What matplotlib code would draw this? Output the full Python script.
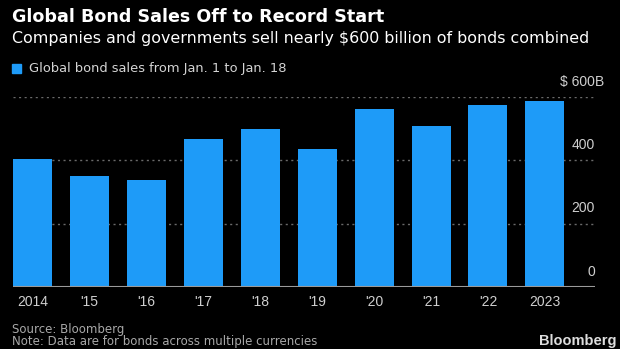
import numpy as np
import matplotlib.pyplot as plt

# values, $ billions
years = ["2014", "'15", "'16", "'17", "'18", "'19", "'20", "'21", "'22", "2023"]
sales = [403, 351, 337, 468, 499, 436, 562, 508, 575, 586]
yticks = [0, 200, 400, 600]

bar_color = "#1e9bf8"
num_font = ['Liberation Sans', 'DejaVu Sans']
txt_font = ['DejaVu Sans']
plt.rcParams['font.family'] = num_font

fig = plt.figure(figsize=(6.2, 3.49), dpi=100, facecolor="black")
ax = fig.add_axes([13 / 620, 62 / 349, 582 / 620, 190 / 349])
ax.set_facecolor("black")

x = np.arange(len(years))
ax.bar(x, sales, width=0.685, color=bar_color, zorder=2)

ax.set_xlim(-0.3425, 9.88)
ax.set_ylim(0, 600)

for v in yticks[1:]:
    ax.axhline(v, color="#6a6a6a", lw=1, ls=(0, (1.5, 2.5)), zorder=1)
ax.axhline(0, color="#9a9a9a", lw=1.5, zorder=3)

for v in yticks:
    lab = "$ 600" if v == 600 else str(v)
    ax.annotate(lab, xy=(1, v), xycoords=ax.get_yaxis_transform(),
                xytext=(0, 6), textcoords="offset points",
                ha="right", va="bottom", color="#cfcfcf", fontsize=10)
ax.annotate("B", xy=(1, 600), xycoords=ax.get_yaxis_transform(),
            xytext=(0, 6), textcoords="offset points",
            ha="left", va="bottom", color="#cfcfcf", fontsize=10)

ax.set_xticks(x)
ax.set_xticklabels(years, color="#cfcfcf", fontsize=10)
ax.tick_params(axis="x", length=0, pad=6)
ax.set_yticks([])
for s in ax.spines.values():
    s.set_visible(False)

fig.text(12 / 620, 1 - 17 / 349, "Global Bond Sales Off to Record Start",
         color="white", fontsize=12.6, fontweight="bold", va="center", family=txt_font)
fig.text(12 / 620, 1 - 38 / 349,
         "Companies and governments sell nearly $600 billion of bonds combined",
         color="white", fontsize=11.4, va="center", family=txt_font)

fig.patches.append(plt.Rectangle((12 / 620, 1 - 73 / 349), 9 / 620, 9 / 349,
                                 transform=fig.transFigure, color=bar_color))
fig.text(29 / 620, 1 - 68.5 / 349, "Global bond sales from Jan. 1 to Jan. 18",
         color="#d4d4d4", fontsize=9.35, va="center", family=txt_font)

fig.text(12 / 620, 1 - 330 / 349, "Source: Bloomberg", color="#a8a8a8",
         fontsize=8.5, va="center", family=txt_font)
fig.text(12 / 620, 1 - 342 / 349, "Note: Data are for bonds across multiple currencies",
         color="#a8a8a8", fontsize=8.5, va="center", family=txt_font)
fig.text(616 / 620, 1 - 348 / 349, "Bloomberg", color="#dddddd",
         fontsize=10.5, fontweight="bold", ha="right", va="bottom")

fig.savefig("out.png", dpi=100, facecolor="black")
